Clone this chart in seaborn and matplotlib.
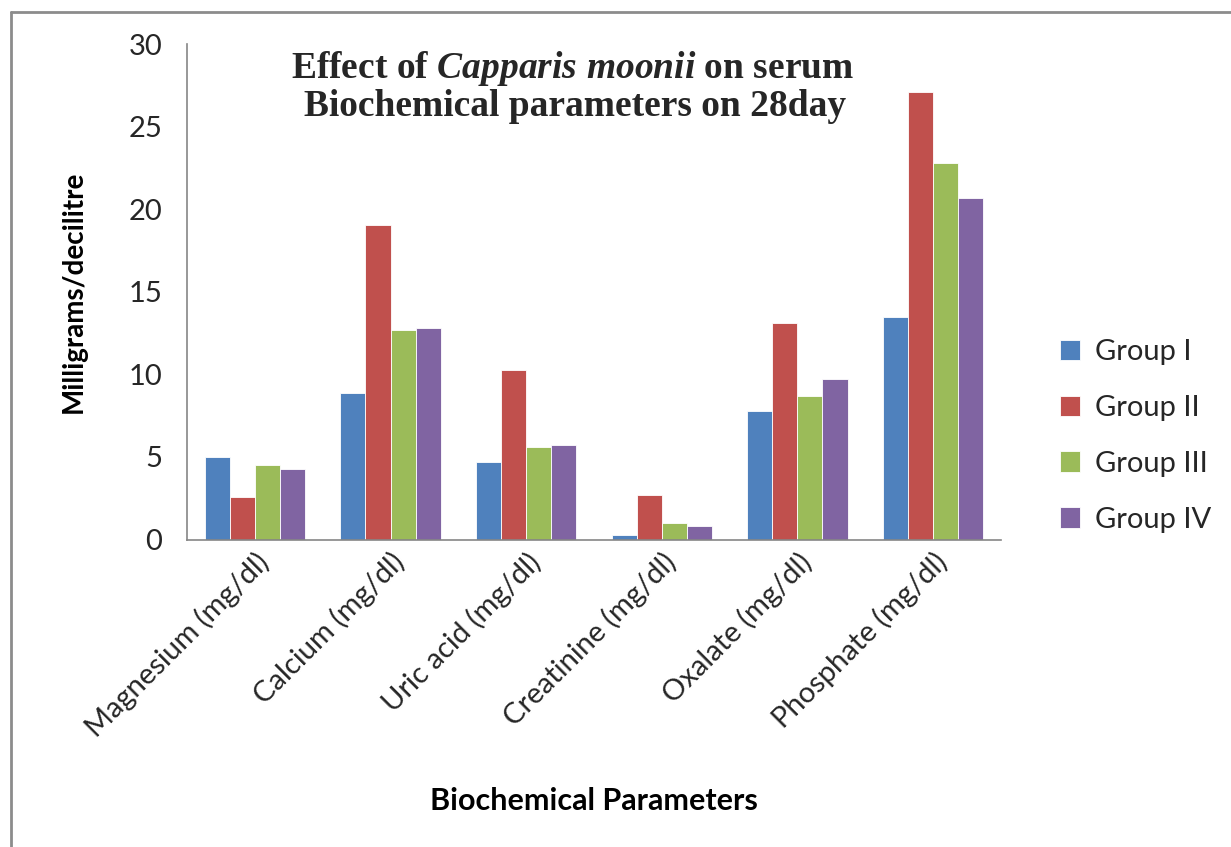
import numpy as np
import pandas as pd
import matplotlib
matplotlib.use('Agg')
import matplotlib.pyplot as plt
import seaborn as sns
from matplotlib.lines import Line2D

# data
parameters = ['Magnesium (mg/dl)', 'Calcium (mg/dl)', 'Uric acid (mg/dl)',
              'Creatinine (mg/dl)', 'Oxalate (mg/dl)', 'Phosphate (mg/dl)']
groups = ['Group I', 'Group II', 'Group III', 'Group IV']
group_1 = [5.0, 8.9, 4.7, 0.3, 7.8, 13.45]
group_2 = [2.6, 19.05, 10.25, 2.7, 13.1, 27.1]
group_3 = [4.5, 12.7, 5.6, 1.0, 8.7, 22.8]
group_4 = [4.25, 12.8, 5.7, 0.8, 9.75, 20.7]
colors = ['#4F81BD', '#C0504D', '#9BBB59', '#8064A2']
y_ticks = [0, 5, 10, 15, 20, 25, 30]

sns.set_theme(style='white')
plt.rcParams['font.family'] = ['Lato', 'DejaVu Sans']
plt.rcParams['mathtext.fontset'] = 'custom'
plt.rcParams['mathtext.rm'] = 'Liberation Serif:bold'
plt.rcParams['mathtext.it'] = 'Liberation Serif:italic:bold'
plt.rcParams['mathtext.bf'] = 'Liberation Serif:bold'

df = pd.DataFrame({
    'parameter': np.tile(parameters, len(groups)),
    'group': np.repeat(groups, len(parameters)),
    'value': group_1 + group_2 + group_3 + group_4,
})

fig = plt.figure(figsize=(12.31, 8.47), dpi=100)
ax = fig.add_axes([0.152, 0.363, 0.661, 0.585])

sns.barplot(data=df, x='parameter', y='value', hue='group', order=parameters,
            hue_order=groups, palette=colors, width=0.74, gap=0,
            errorbar=None, edgecolor='white', linewidth=0.6, saturation=1, ax=ax)

axis_grey = '#868686'
ax.set_xlim(-0.5, len(parameters) - 0.5)
ax.set_ylim(0, 30)
ax.set_yticks(y_ticks)
ax.set_yticklabels([str(t) for t in y_ticks], fontsize=21, color='#262626')

# ticks at category boundaries, labels at centres
ax.set_xticks(np.arange(len(parameters) + 1) - 0.5)
ax.set_xticklabels([])
ax.set_xticks(np.arange(len(parameters)), minor=True)
ax.set_xticklabels(parameters, minor=True, rotation=45, ha='right',
                   rotation_mode='anchor', fontsize=21, color='#262626')
ax.tick_params(axis='x', which='major', length=9, width=1, color=axis_grey, direction='out')
ax.tick_params(axis='x', which='minor', length=0, pad=6)
ax.tick_params(axis='y', length=8, width=1, color=axis_grey, direction='out', pad=10)

for side in ['top', 'right']:
    ax.spines[side].set_visible(False)
for side in ['left', 'bottom']:
    ax.spines[side].set_color(axis_grey)
    ax.spines[side].set_linewidth(1.2)

ax.set_ylabel('Milligrams/decilitre', fontsize=20, fontweight='bold', color='black')
ax.yaxis.set_label_coords(-0.123, 0.5)
ax.set_xlabel('Biochemical Parameters', fontsize=22, fontweight='bold', color='black')
ax.xaxis.set_label_coords(0.5, -0.50)

leg = ax.legend(loc='center left', bbox_to_anchor=(1.04, 0.209), frameon=False,
                fontsize=21, handlelength=0.7, handleheight=0.7,
                handletextpad=0.5, labelspacing=1.02)

fig.text(573 / 1231, 1 - 68 / 847, r'Effect of $\mathit{Capparis\ moonii}$ on serum',
         ha='center', va='center', fontsize=27, fontweight='bold',
         family='Liberation Serif')
fig.text(575 / 1231, 1 - 106 / 847, 'Biochemical parameters on 28day',
         ha='center', va='center', fontsize=27, fontweight='bold',
         family='Liberation Serif')

# outer chart frame (left and top edges visible)
fig.add_artist(Line2D([11 / 1231, 11 / 1231], [0, 1 - 12 / 847], transform=fig.transFigure,
                      color='#8c8c8c', linewidth=2))
fig.add_artist(Line2D([11 / 1231, 1], [1 - 12 / 847, 1 - 12 / 847], transform=fig.transFigure,
                      color='#8c8c8c', linewidth=2))

fig.savefig('out.png', dpi=100)
